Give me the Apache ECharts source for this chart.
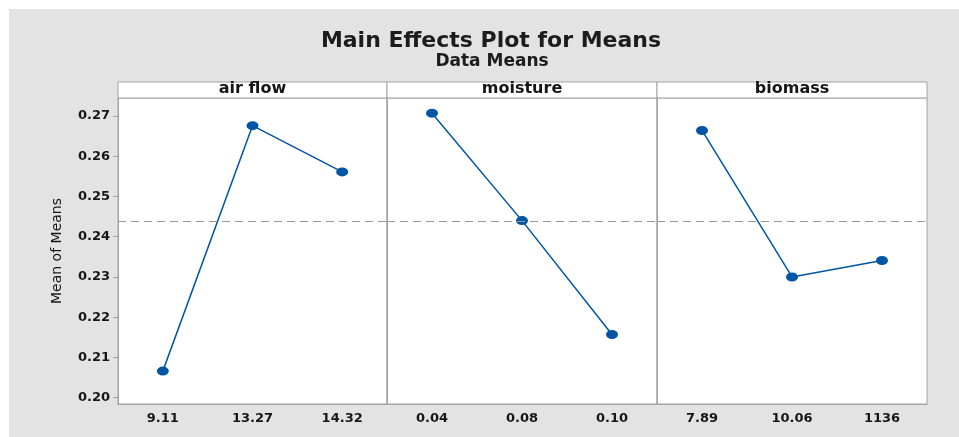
<!DOCTYPE html>
<html>
<head>
<meta charset="utf-8">
<script src="https://cdn.jsdelivr.net/npm/echarts@6/dist/echarts.min.js"></script>
<style>
  html, body { margin: 0; padding: 0; background: #ffffff; }
  #bg { position: absolute; left: 9px; top: 9px; width: 950px; height: 428px; background: #e3e3e3; }
  #chart { position: absolute; left: 0; top: 0; width: 959px; height: 437px; }
</style>
</head>
<body>
<div id="bg"></div>
<div id="chart"></div>
<script>
// ---- data ----
const factorNames = ['air flow', 'moisture', 'biomass'];
const airFlowLevels = ['9.11', '13.27', '14.32'];
const moistureLevels = ['0.04', '0.08', '0.10'];
const biomassLevels = ['7.89', '10.06', '1136'];
const airFlowMeans = [0.2066, 0.2676, 0.2561];
const moistureMeans = [0.2707, 0.2440, 0.2157];
const biomassMeans = [0.2664, 0.2300, 0.2341];
const grandMean = 0.2438;
const yTickValues = [0.20, 0.21, 0.22, 0.23, 0.24, 0.25, 0.26, 0.27];
const yRange = [0.19843, 0.27447];

const levels = [airFlowLevels, moistureLevels, biomassLevels];
const means = [airFlowMeans, moistureMeans, biomassMeans];

// ---- layout ----
const panelLeft = [118, 387, 657];
const panelWidth = [269, 270, 270];
const plotTop = 98, plotBottom = 404, headerTop = 82;
const frameColor = '#a3a3a3';
const textColor = '#161616';
const lineBlue = '#0055a5';
const font = 'DejaVu Sans';

const grids = [], xAxes = [], yAxes = [], series = [], graphics = [];
for (let i = 0; i < 3; i++) {
  grids.push({
    left: panelLeft[i], top: plotTop, width: panelWidth[i], height: plotBottom - plotTop,
    show: true, backgroundColor: '#ffffff', borderColor: frameColor, borderWidth: 1
  });
  xAxes.push({
    type: 'category', gridIndex: i, data: levels[i], boundaryGap: true,
    axisLine: { lineStyle: { color: frameColor } },
    axisTick: { alignWithLabel: true, length: 4, lineStyle: { color: frameColor } },
    axisLabel: { margin: 8, fontFamily: font, fontWeight: 'bold', fontSize: 13, color: textColor },
    splitLine: { show: false }
  });
  yAxes.push({
    type: 'value', gridIndex: i, min: yRange[0], max: yRange[1],
    name: i === 0 ? 'Mean of Means' : '',
    nameLocation: 'middle', nameGap: 54,
    nameTextStyle: { fontFamily: font, fontSize: 14, color: textColor },
    axisLine: { show: true, lineStyle: { color: frameColor } },
    axisTick: { show: i === 0, length: 5, customValues: yTickValues, lineStyle: { color: frameColor } },
    axisLabel: {
      show: i === 0, margin: 8, customValues: yTickValues,
      formatter: v => v.toFixed(2),
      fontFamily: font, fontWeight: 'bold', fontSize: 13, color: textColor
    },
    splitLine: { show: false }
  });
  series.push({
    type: 'line', xAxisIndex: i, yAxisIndex: i, data: means[i],
    symbol: 'circle', symbolSize: [12, 9],
    itemStyle: { color: lineBlue },
    lineStyle: { color: lineBlue, width: 1.5 },
    markLine: {
      silent: true, precision: 6, symbol: ['none', 'none'], label: { show: false },
      lineStyle: { color: '#999999', type: [8, 5], width: 1 },
      data: [{ yAxis: grandMean }]
    },
    z: 3
  });
  graphics.push({
    type: 'rect', shape: { x: panelLeft[i], y: headerTop, width: panelWidth[i], height: plotTop - headerTop },
    style: { fill: '#ffffff', stroke: frameColor, lineWidth: 1 }
  });
  graphics.push({
    type: 'text', x: panelLeft[i] + panelWidth[i] / 2, y: 89,
    style: { text: factorNames[i], align: 'center', verticalAlign: 'middle',
      font: 'bold 16px "DejaVu Sans"', fill: textColor }
  });
}
graphics.push({
  type: 'text', x: 491, y: 41,
  style: { text: 'Main Effects Plot for Means', align: 'center', verticalAlign: 'middle',
    font: 'bold 22px "DejaVu Sans"', fill: '#1c1c1c' }
});
graphics.push({
  type: 'text', x: 492, y: 62,
  style: { text: 'Data Means', align: 'center', verticalAlign: 'middle',
    font: 'bold 17px "DejaVu Sans"', fill: '#1c1c1c' }
});

const chart = echarts.init(document.getElementById('chart'), null, { renderer: 'canvas' });
chart.setOption({
  backgroundColor: 'transparent',
  animation: false,
  grid: grids,
  xAxis: xAxes,
  yAxis: yAxes,
  series: series,
  graphic: graphics
});
</script>
</body>
</html>
